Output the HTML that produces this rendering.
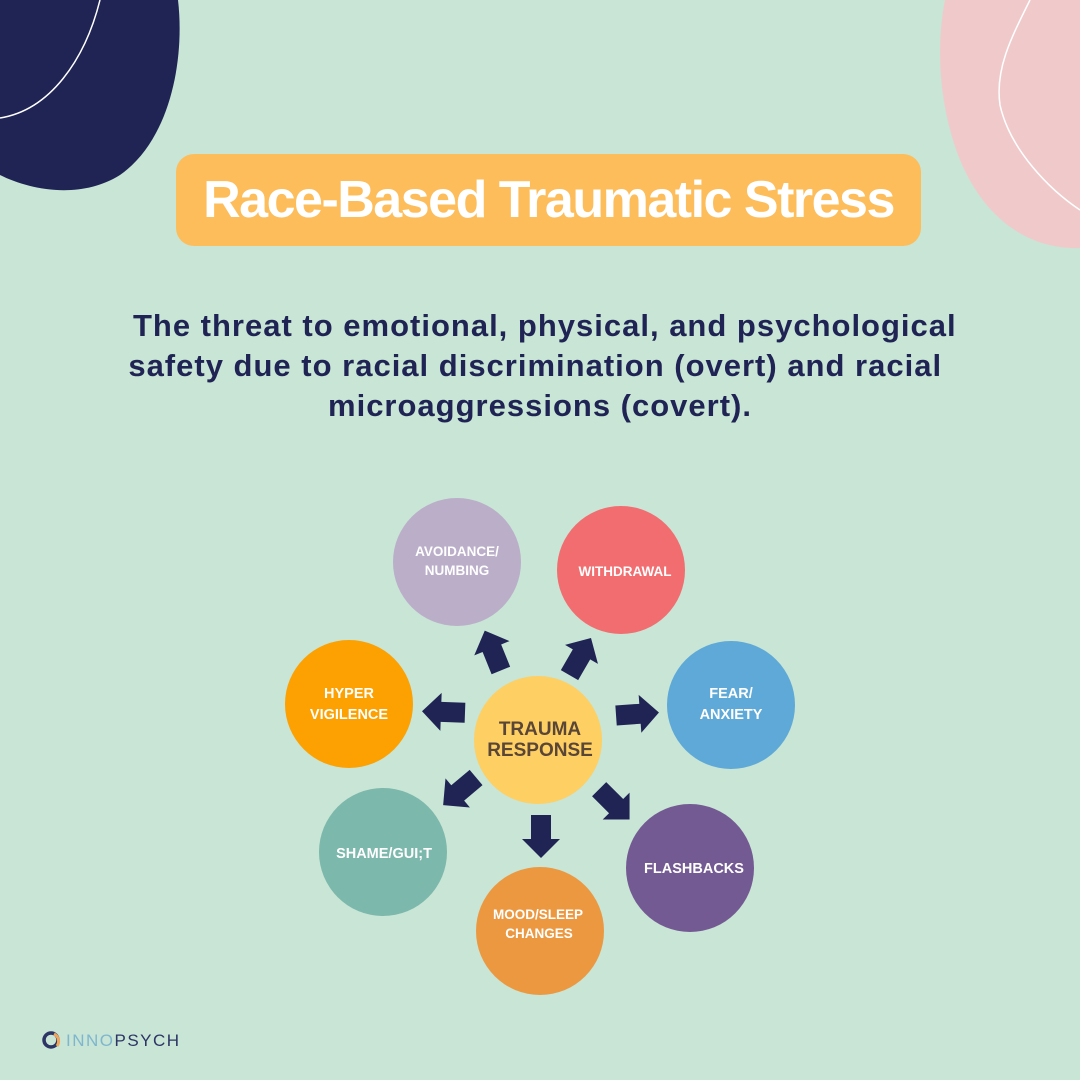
<!DOCTYPE html>
<html><head><meta charset="utf-8"><style>
html,body{margin:0;padding:0}
body{width:1080px;height:1080px;background:#C8E5D5;position:relative;overflow:hidden;font-family:"Liberation Sans","DejaVu Sans",sans-serif}
.title{position:absolute;left:176px;top:154px;width:745px;height:92px;background:#FDBD5B;border-radius:18px;color:#fff;font-weight:bold;font-size:52px;letter-spacing:-1.5px;text-align:center;line-height:92px}
.sub{position:absolute;left:40px;top:306px;width:1000px;text-align:center;color:#1F2454;font-weight:bold;font-size:31px;line-height:40px;letter-spacing:1px;white-space:nowrap}
.logo{position:absolute;left:66px;top:1031px;font-size:17px;letter-spacing:1.5px;color:#7FB6CF}
.logo b{color:#2C3566;font-weight:normal}
</style></head><body>
<svg width="1080" height="1080" style="position:absolute;left:0;top:0">
<path d="M0,0 L178,0 C185,60 170,140 120,175 C80,200 30,190 0,175 Z" fill="#1F2454"/>
<path d="M0,118 C50,110 85,60 100,0" stroke="#fff" stroke-width="1.5" fill="none"/>
<path d="M945,0 L1080,0 L1080,248 C1030,250 985,220 960,160 C940,110 935,50 945,0 Z" fill="#F0CACB"/>
<path d="M1030,0 C1010,40 995,70 1000,105 C1010,150 1050,190 1080,210" stroke="#fff" stroke-width="1.5" fill="none"/>
<g font-family="Liberation Sans, sans-serif" font-weight="bold" fill="#fff" text-anchor="middle" font-size="13.5">
<circle cx="457" cy="562" r="64" fill="#BBAEC9"/>
<text x="457" y="556">AVOIDANCE/</text><text x="457" y="575">NUMBING</text>
<circle cx="621" cy="570" r="64" fill="#F26D6F"/>
<text x="625" y="576">WITHDRAWAL</text>
<circle cx="731" cy="705" r="64" fill="#5EA9D8"/>
<text x="731" y="698" font-size="14.5">FEAR/</text><text x="731" y="719" font-size="14.5">ANXIETY</text>
<circle cx="349" cy="704" r="64" fill="#FDA001"/>
<text x="349" y="698" font-size="14.5">HYPER</text><text x="349" y="719" font-size="14.5">VIGILENCE</text>
<circle cx="383" cy="852" r="64" fill="#7CB8AB"/>
<text x="384" y="858" font-size="14.5">SHAME/GUI;T</text>
<circle cx="690" cy="868" r="64" fill="#745A93"/>
<text x="694" y="873" font-size="14.5">FLASHBACKS</text>
<circle cx="540" cy="931" r="64" fill="#EC9841"/>
<text x="538" y="919">MOOD/SLEEP</text><text x="539" y="938">CHANGES</text>
<circle cx="538" cy="740" r="64" fill="#FECF63"/>
<text x="540" y="735" font-size="19" fill="#5A4636">TRAUMA</text><text x="540" y="756" font-size="19" fill="#5A4636">RESPONSE</text>
</g>
<g fill="#1F2454">
<polygon points="-21,-10 3,-10 3,-19 22,0 3,19 3,10 -21,10" transform="translate(493,651) rotate(-112)"/>
<polygon points="-21,-10 3,-10 3,-19 22,0 3,19 3,10 -21,10" transform="translate(580,657) rotate(-60)"/>
<polygon points="-21,-10 3,-10 3,-19 22,0 3,19 3,10 -21,10" transform="translate(444,712) rotate(182)"/>
<polygon points="-21,-10 3,-10 3,-19 22,0 3,19 3,10 -21,10" transform="translate(637,714) rotate(-4)"/>
<polygon points="-21,-10 3,-10 3,-19 22,0 3,19 3,10 -21,10" transform="translate(460,791) rotate(140)"/>
<polygon points="-21,-10 3,-10 3,-19 22,0 3,19 3,10 -21,10" transform="translate(541,836) rotate(90)"/>
<polygon points="-21,-10 3,-10 3,-19 22,0 3,19 3,10 -21,10" transform="translate(614,804) rotate(45)"/>
</g>
<circle cx="51" cy="1040" r="7" fill="none" stroke="#2C3566" stroke-width="3.5"/>
<path d="M54,1034 A8,8 0 0 1 57,1046" stroke="#F2A65A" stroke-width="3" fill="none"/>
</svg>
<div class="title">Race-Based Traumatic Stress</div>
<div class="sub">&nbsp;The threat to emotional, physical, and psychological<br>safety due to racial discrimination (overt) and racial&nbsp;<br>microaggressions (covert).</div>
<div class="logo">INNO<b>PSYCH</b></div>
</body></html>
